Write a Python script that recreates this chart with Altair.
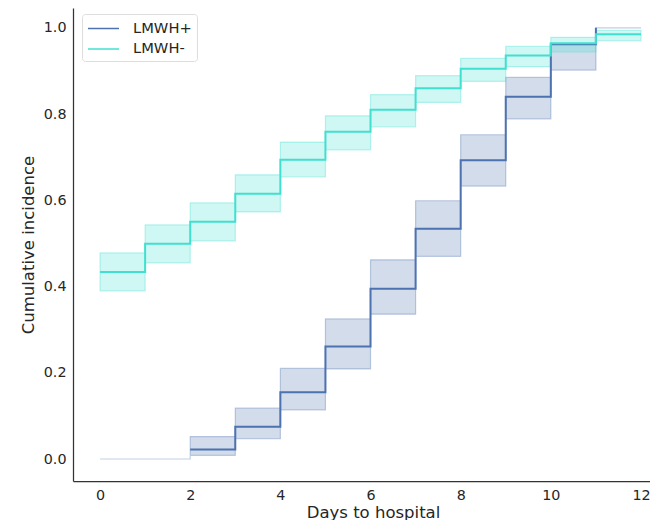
import altair as alt
import pandas as pd

# ---- data ----
days = [0, 1, 2, 3, 4, 5, 6, 7, 8, 9, 10, 11, 12]

neg_est = [0.434, 0.499, 0.550, 0.615, 0.694, 0.759, 0.810, 0.860, 0.905, 0.936, 0.964, 0.985, 0.985]
neg_lo = [0.390, 0.455, 0.506, 0.573, 0.654, 0.717, 0.770, 0.827, 0.876, 0.910, 0.944, 0.970, 0.970]
neg_hi = [0.478, 0.543, 0.594, 0.659, 0.735, 0.796, 0.845, 0.889, 0.929, 0.957, 0.978, 0.994, 0.994]

pos_est = [0.0, 0.0, 0.022, 0.075, 0.155, 0.261, 0.395, 0.534, 0.693, 0.840, 0.962, 1.0, 1.0]
pos_lo = [0.0, 0.0, 0.0085, 0.047, 0.114, 0.209, 0.336, 0.470, 0.633, 0.789, 0.902, 1.0, 1.0]
pos_hi = [0.0, 0.0, 0.052, 0.118, 0.210, 0.325, 0.462, 0.599, 0.752, 0.885, 0.962, 1.0, 1.0]

# line of LMWH+ is drawn from day 2 to day 11
pos_line_days = days[2:12]
pos_line_est = pos_est[2:12]

groups = ["LMWH+", "LMWH-"]
colors = ["#4C72B0", "#40E0D0"]

pos_band = pd.DataFrame({"day": days, "lo": pos_lo, "hi": pos_hi})
neg_band = pd.DataFrame({"day": days, "lo": neg_lo, "hi": neg_hi})
line_df = pd.concat([
    pd.DataFrame({"day": pos_line_days, "est": pos_line_est, "group": groups[0]}),
    pd.DataFrame({"day": days, "est": neg_est, "group": groups[1]}),
])

FONT = "DejaVu Sans"
TXT = "#262626"

xscale = alt.Scale(domain=[-0.6, 12.2], nice=False, zero=False)
yscale = alt.Scale(domain=[-0.051, 1.046], nice=False, zero=False)
cscale = alt.Scale(domain=groups, range=colors)

xaxis = alt.Axis(values=[0, 2, 4, 6, 8, 10, 12], title="Days to hospital",
                 titleX=300, titleY=39, titleAlign="center", titleAnchor="start",
                 titleBaseline="bottom")
yaxis = alt.Axis(values=[0, 0.2, 0.4, 0.6, 0.8, 1.0], format=".1f",
                 title="Cumulative incidence")


def band(df, color):
    return alt.Chart(df).mark_area(
        interpolate="step-after", color=color, fillOpacity=0.25,
        stroke=color, strokeWidth=1.2, strokeOpacity=0.35
    ).encode(
        x=alt.X("day:Q", scale=xscale, axis=xaxis),
        y=alt.Y("lo:Q", scale=yscale, axis=yaxis),
        y2="hi:Q",
    )


lines = alt.Chart(line_df).mark_line(interpolate="step-after", strokeWidth=2).encode(
    x=alt.X("day:Q", scale=xscale, axis=xaxis),
    y=alt.Y("est:Q", scale=yscale, axis=yaxis),
    color=alt.Color("group:N", scale=cscale, legend=alt.Legend(
        title=None, orient="none", legendX=9, legendY=6,
        symbolType="M-1,0H2.65", symbolSize=289, symbolStrokeWidth=1.5,
        labelFont=FONT, labelFontSize=14.7, labelColor=TXT, labelOffset=27,
        padding=5, rowPadding=3.5, strokeColor="#dddddd", fillColor="white",
        cornerRadius=3)),
)

chart = alt.layer(band(pos_band, colors[0]), band(neg_band, colors[1]), lines).properties(
    width=577, height=473,
    autosize=alt.AutoSizeParams(type="none"),
    padding={"left": 65, "top": 0, "right": 0, "bottom": 39},
).configure_view(stroke=None).configure_axis(
    grid=False, ticks=False, domainColor="#333333", domainWidth=1.25,
    labelFont=FONT, labelFontSize=14.3, labelColor=TXT, labelPadding=7,
    titleFont=FONT, titleFontSize=16.5, titleColor=TXT, titleFontWeight="normal",
    titlePadding=7,
)

chart.save("out.html", embed_options={"renderer": "svg", "actions": False})
